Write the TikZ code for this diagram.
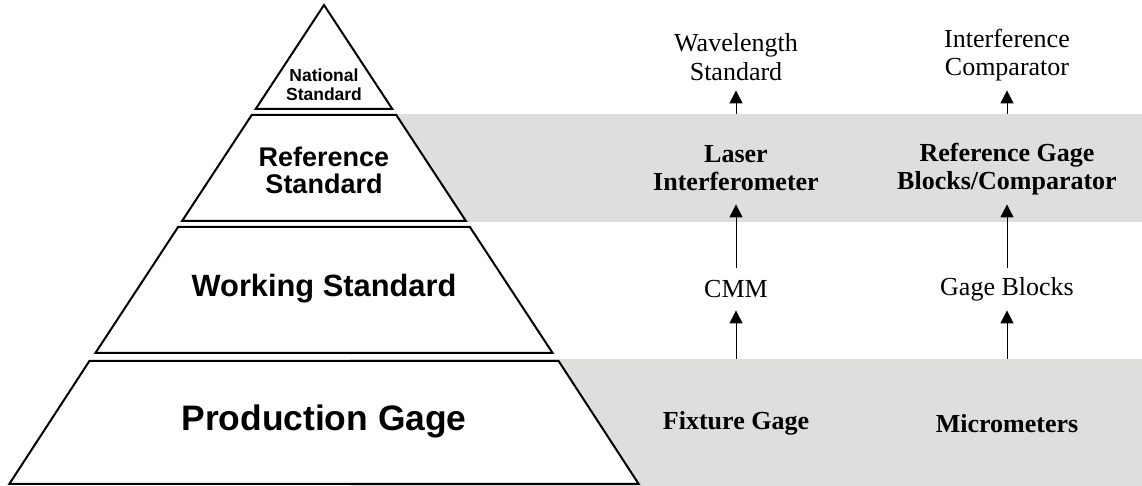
\documentclass[tikz,border=0pt]{standalone}
\usepackage{fontspec}
\setmainfont{Liberation Serif}
\setsansfont{Liberation Sans}
\usetikzlibrary{arrows.meta}
\definecolor{bandgray}{RGB}{222,222,220}
\begin{document}
\begin{tikzpicture}[x={(0.5pt,0pt)}, y={(0pt,-0.5pt)},
  layer/.style={draw=black, fill=white, line width=1pt, line join=miter},
  edge/.style={line width=1.4pt},
  tier/.style={align=center, inner sep=0pt},
  item/.style={align=center, inner sep=0pt, font=\fontsize{13}{14.3}\selectfont},
  bolditem/.style={item, font=\fontsize{13}{14.3}\selectfont\bfseries},
  band/.style={fill=bandgray, draw=none, inner sep=0pt, outer sep=0pt, anchor=north west},
  arr/.style={-{Triangle[length=6.5pt,width=6.5pt]}, line width=0.5pt}]
\useasboundingbox (0,0) rectangle (1142,486);

% shaded rows behind the reference and production levels
\node[band, minimum width=396pt, minimum height=54pt] (refband) at (350,114) {};
\node[band, minimum width=396pt, minimum height=63.5pt] (prodband) at (350,359.5) {};

% pyramid levels
\draw[layer] (324,5) -- (392.3,109) -- (255.7,109) -- cycle;
\draw[edge] (255.7,109) -- (392.3,109);
\draw[layer] (251.7,115) -- (396.3,115) -- (465.9,221) -- (182.1,221) -- cycle;
\draw[edge] (251.7,115) -- (396.3,115) (465.9,221) -- (182.1,221);
\draw[layer] (178.1,227) -- (469.9,227) -- (552.6,353) -- (95.4,353) -- cycle;
\draw[edge] (178.1,227) -- (469.9,227) (552.6,353) -- (95.4,353);
\draw[layer] (89.4,361) -- (558.6,361) -- (638.7,484) -- (9.3,484) -- cycle;
\draw[edge] (89.4,361) -- (558.6,361) (638.7,484) -- (9.3,484);

% level names
\node[tier, font=\sffamily\bfseries\fontsize{8.75}{9.5}\selectfont] (nat) at (324,85) {National\\Standard};
\node[tier, font=\sffamily\bfseries\fontsize{13.5}{13.6}\selectfont] (ref) at (324,170) {Reference\\Standard};
\node[tier, font=\sffamily\bfseries\fontsize{15.4}{17}\selectfont] (work) at (324,289) {Working Standard};
\node[tier, font=\sffamily\bfseries\fontsize{17.7}{20}\selectfont] (prod) at (324,421) {Production Gage};

% instruments, first chain
\node[item, minimum height=33pt] (wave) at (736,57) {Wavelength\\Standard};
\node[bolditem, minimum height=36pt] (laser) at (736,168) {Laser\\Interferometer};
\node[item, minimum height=21pt] (cmm) at (736,289) {CMM};
\node[bolditem, minimum height=63.5pt] (fix) at (736,423.25) {Fixture Gage};

% instruments, second chain
\node[item, minimum height=35pt] (ic) at (1007,55) {Interference\\Comparator};
\node[bolditem, minimum height=35pt] (rgb) at (1007,169) {Reference Gage\\Blocks/Comparator};
\node[item, minimum height=21pt] (gb) at (1007,289) {Gage Blocks};
\node[bolditem, minimum height=63.5pt] (mic) at (1007,423.25) {Micrometers};

% traceability arrows
\draw[arr] (fix.north) -- (cmm.south);
\draw[arr] (cmm.north) -- (laser.south);
\draw[arr] (laser |- refband.north) -- (wave.south);
\draw[arr] (mic.north) -- (gb.south);
\draw[arr] (gb.north) -- (rgb.south);
\draw[arr] (rgb |- refband.north) -- (ic.south);
\end{tikzpicture}
\end{document}
